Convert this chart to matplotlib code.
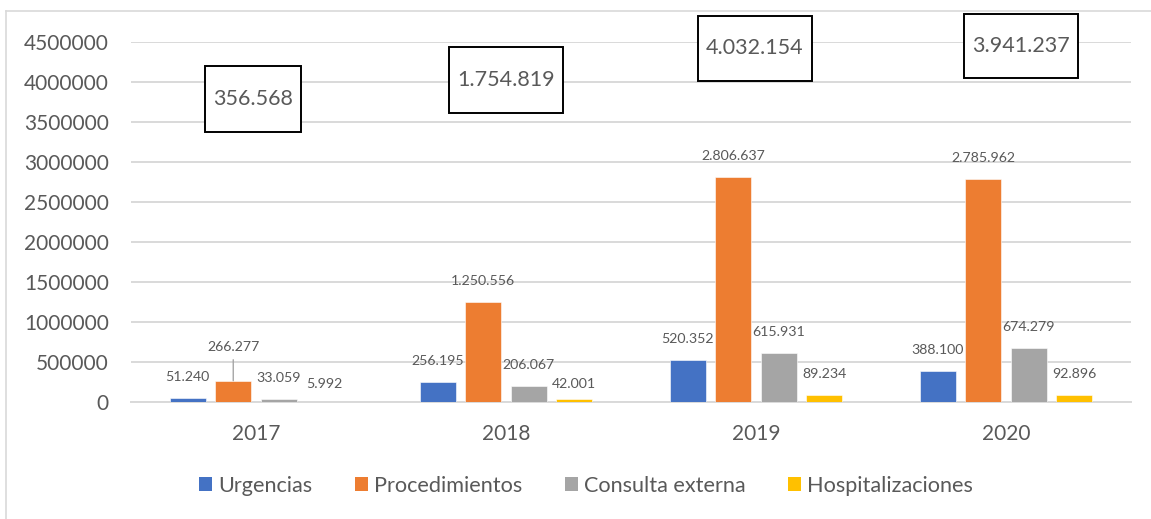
import matplotlib
matplotlib.use("Agg")
import matplotlib.pyplot as plt
from matplotlib.patches import Rectangle, Patch
from matplotlib.lines import Line2D
import numpy as np

# ---------------- data ----------------
years = ["2017", "2018", "2019", "2020"]
series_names = ["Urgencias", "Procedimientos", "Consulta externa", "Hospitalizaciones"]
urgencias = [51240, 256195, 520352, 388100]
procedimientos = [266277, 1250556, 2806637, 2785962]
consulta_externa = [33059, 206067, 615931, 674279]
hospitalizaciones = [5992, 42001, 89234, 92896]
totales = [356568, 1754819, 4032154, 3941237]
yticks = [0, 500000, 1000000, 1500000, 2000000, 2500000, 3000000, 3500000, 4000000, 4500000]

# ---------------- style ----------------
colors = ["#4472C4", "#ED7D31", "#A5A5A5", "#FFC000"]
text_color = "#595959"
grid_color = "#D9D9D9"
FONT = ["Lato", "DejaVu Sans"]
plt.rcParams["font.family"] = FONT

W, H = 1151, 519
fig = plt.figure(figsize=(W / 100, H / 100), dpi=100)
ax = fig.add_axes([131 / W, 1 - 402 / H, 1000 / W, 360 / H])

series = [urgencias, procedimientos, consulta_externa, hospitalizaciones]
x = np.arange(len(years))
bar_w = 0.144
step = 0.182

def fmt(v):
    return f"{v:,}".replace(",", ".")

# label offsets (pixels above bar top) for manually moved labels
label_offset = {(1, 0): 34, (3, 0): 17.5, (3, 1): 14.6}

for i, (vals, c) in enumerate(zip(series, colors)):
    xs = x + (i - 1.5) * step
    ax.bar(xs, vals, width=bar_w, color=c, edgecolor="white", linewidth=0.4, zorder=3)
    for j, (xx, v) in enumerate(zip(xs, vals)):
        off = label_offset.get((i, j), 21)
        ax.annotate(fmt(v), (xx, v), xytext=(0, off * 0.72), textcoords="offset points",
                    ha="center", va="center", fontsize=10.2, color=text_color, zorder=5)
        if (i, j) == (1, 0):
            ax.annotate("", (xx, v), xytext=(0, (off - 13) * 0.72), textcoords="offset points",
                        arrowprops=dict(arrowstyle="-", color="#A6A6A6", lw=1.0,
                                        shrinkA=0, shrinkB=0), zorder=4)

# total boxes
box_cx = [-0.012, 0.0, -0.004, 0.06]
box_cy = [3787500, 4025000, 4418750, 4450000]
box_w = [0.384, 0.456, 0.456, 0.456]
box_h = [825000, 825000, 812500, 800000]
for j, tot in enumerate(totales):
    cx = x[j] + box_cx[j]
    rect = Rectangle((cx - box_w[j] / 2, box_cy[j] - box_h[j] / 2), box_w[j], box_h[j],
                     fill=True, facecolor="white", edgecolor="black", linewidth=1.4,
                     clip_on=False, zorder=6)
    ax.add_patch(rect)
    ax.text(cx, box_cy[j], fmt(tot), ha="center", va="center", fontsize=15.5,
            color=text_color, zorder=7, clip_on=False)

ax.set_xlim(-0.5, 3.5)
ax.set_ylim(0, 4500000)
ax.set_yticks(yticks)
ax.set_yticklabels([str(t) for t in yticks])
ax.set_xticks(x)
ax.set_xticklabels(years)
ax.tick_params(axis="y", length=0, pad=16, labelsize=15, labelcolor=text_color)
ax.tick_params(axis="x", length=0, pad=16, labelsize=15, labelcolor=text_color)
ax.grid(axis="y", color=grid_color, linewidth=1.4, zorder=0)
ax.set_axisbelow(True)
for s in ["top", "right", "left"]:
    ax.spines[s].set_visible(False)
ax.spines["bottom"].set_color(grid_color)
ax.spines["bottom"].set_linewidth(1.4)
ax.spines["bottom"].set_zorder(2)

# legend
handles = [Patch(facecolor=c, edgecolor="none") for c in colors]
leg = fig.legend(handles, series_names, loc="center", bbox_to_anchor=(586 / W, 1 - 486 / H),
                 ncol=4, frameon=False, fontsize=15.6, handlelength=0.6, handleheight=0.6,
                 handletextpad=0.3, columnspacing=1.95, labelcolor=text_color)

# chart area border (cropped)
fig.add_artist(Line2D([6 / W, 1.0], [1 - 11 / H, 1 - 11 / H], transform=fig.transFigure,
                      color=grid_color, linewidth=1.2))
fig.add_artist(Line2D([6 / W, 6 / W], [0, 1 - 11 / H], transform=fig.transFigure,
                      color=grid_color, linewidth=1.2))

fig.savefig("out.png", dpi=100, facecolor="white")
